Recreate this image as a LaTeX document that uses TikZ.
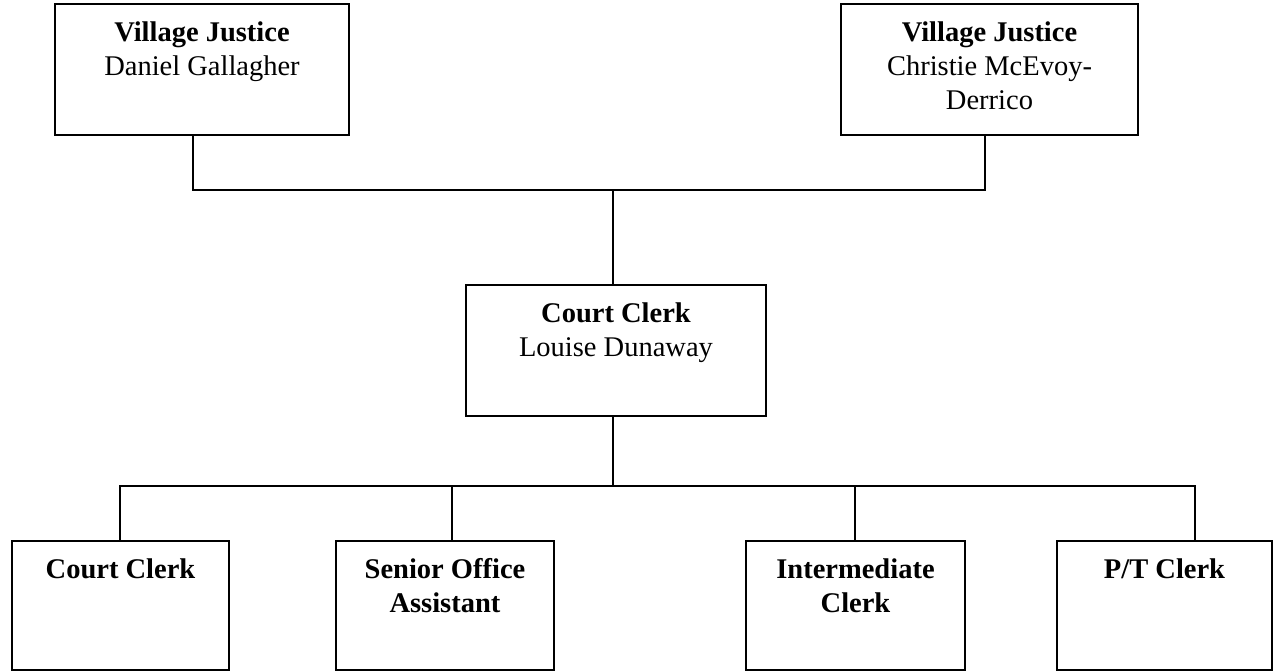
\documentclass[tikz,border=0pt]{standalone}
\usepackage{fontspec}
\setmainfont{Liberation Serif}
% fixed-size box contents: text set from the top, centred
\newcommand\orgtext[3]{\parbox[c][#2][t]{#1}{\centering\rule{0pt}{37pt}#3}}
\begin{document}
\begin{tikzpicture}[x=1pt, y=-1pt,
  orgbox/.style={draw, line width=1.4pt, inner sep=0pt, outer sep=0pt},
  link/.style={line width=1.4pt}]
\useasboundingbox (0,0) rectangle (1275,672);
\fontsize{28.5pt}{34pt}\selectfont

% justices
\node[orgbox] (jl) at (202,69.5)
  {\orgtext{294pt}{131pt}{\textbf{Village Justice}\\Daniel Gallagher}};
\node[orgbox] (jr) at (989.5,69.5)
  {\orgtext{297pt}{131pt}{\textbf{Village Justice}\\Christie McEvoy-\\Derrico}};

% court clerk
\node[orgbox] (cc) at (616,350.5)
  {\orgtext{300pt}{131pt}{\textbf{Court Clerk}\\Louise Dunaway}};

% staff
\node[orgbox] (b1) at (120.5,605.5)
  {\orgtext{217pt}{129pt}{\textbf{Court Clerk}}};
\node[orgbox] (b2) at (445,605.5)
  {\orgtext{218pt}{129pt}{\textbf{Senior Office}\\\textbf{Assistant}}};
\node[orgbox] (b3) at (855.5,605.5)
  {\orgtext{219pt}{129pt}{\textbf{Intermediate}\\\textbf{Clerk}}};
\node[orgbox] (b4) at (1164.5,605.5)
  {\orgtext{215pt}{129pt}{\textbf{P/T Clerk}}};

% connectors
\coordinate (upper) at (613,190);
\coordinate (lower) at (613,486);
\draw[link] ([xshift=-9pt]jl.south) |- (upper) -| ([xshift=-4.5pt]jr.south);
\draw[link] (upper) -- ([xshift=-3pt]cc.north);
\draw[link] ([xshift=-3pt]cc.south) -- (lower);
\draw[link] ([xshift=-0.5pt]b1.north) |- (lower) -| ([xshift=30.5pt]b4.north);
\draw[link] ([xshift=7pt]b2.north) -- ([xshift=7pt]b2.north |- lower);
\draw[link] ([xshift=-0.5pt]b3.north) -- ([xshift=-0.5pt]b3.north |- lower);
\end{tikzpicture}
\end{document}
